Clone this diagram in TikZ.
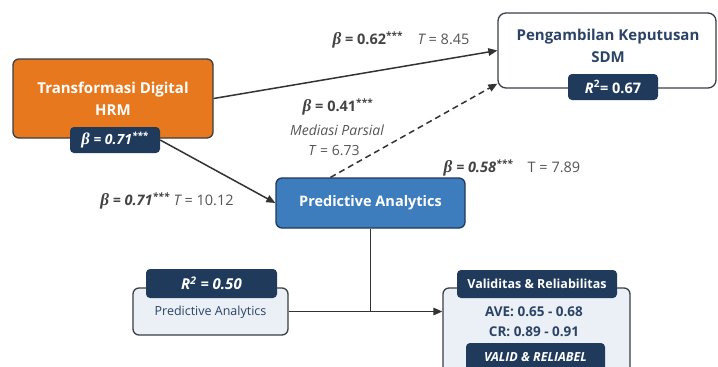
\documentclass[tikz,border=0pt]{standalone}
\usepackage{fontspec}
\setmainfont{Open Sans}
\newfontfamily\bfam{Liberation Serif}
\usetikzlibrary{arrows.meta,calc}
\definecolor{orangeM}{HTML}{E8781E}
\definecolor{navy}{HTML}{1F3A5A}
\definecolor{blueM}{HTML}{3D7DBE}
\definecolor{lightF}{HTML}{EAF0F6}
\definecolor{edgeC}{HTML}{3A3F46}
\definecolor{txtG}{HTML}{555555}
\definecolor{lineC}{HTML}{333333}
\definecolor{navyT}{HTML}{2B4466}
\newcommand\mybeta{\scalebox{1.18}{\bfam\itshape β}}
\newcommand\stars{\textsuperscript{***}}
\begin{document}
\begin{tikzpicture}[x=1pt,y=-1pt,
  box/.style={rounded corners=6pt, draw=edgeC, line width=1.3pt, inner sep=0pt},
  badge/.style={rounded corners=4pt, fill=navy, draw=none, text=white, inner sep=0pt},
  conn/.style={draw=lineC, line width=1.5pt},
  arr/.style={-{Triangle[length=9pt,width=7.5pt]}},
  lab/.style={text=txtG, font=\fontsize{14}{16}\selectfont, inner sep=0pt},
  blab/.style={text=txtG!80!black, font=\fontsize{14.5}{16}\selectfont\bfseries, inner sep=0pt}
]
\useasboundingbox (0,0) rectangle (718,367);
\clip (0,0) rectangle (718,367);
\fill[white] (0,0) rectangle (718,367);

% boxes
\node[box, fill=orangeM, minimum width=200pt, minimum height=79pt] (trans) at (113,98.5) {};
\node[text=white, align=center, font=\fontsize{15}{22}\selectfont\bfseries] (transT) at (113,99) {Transformasi Digital\\HRM};
\node[badge, minimum width=90pt, minimum height=26pt, font=\fontsize{14}{16}\selectfont\bfseries\itshape] (b1) at (115,140) {\mybeta{} = 0.71\stars};

\node[box, fill=white, rounded corners=8pt, minimum width=218pt, minimum height=75pt] (peng) at (607,50.5) {};
\node[text=navyT, align=center, font=\fontsize{15}{22}\selectfont\bfseries] (pengT) at (608,46) {Pengambilan Keputusan\\SDM};
\node[badge, minimum width=90pt, minimum height=26pt, font=\fontsize{14.5}{16}\selectfont\bfseries] (b2) at (613,87) {\textit{R}\textsuperscript{2}= 0.67};

\node[box, fill=blueM, draw=navy, minimum width=189pt, minimum height=50pt, text=white, font=\fontsize{14.5}{17}\selectfont\bfseries] (pa) at (370.5,203) {Predictive Analytics};

\node[box, fill=lightF, draw=edgeC, minimum width=155pt, minimum height=47pt] (lb) at (210.5,311.5) {};
\node[text=navyT, font=\fontsize{12.5}{14}\selectfont, inner sep=0pt] (lbT) at (210.5,312) {Predictive Analytics};
\node[badge, minimum width=131pt, minimum height=29pt, font=\fontsize{15}{17}\selectfont\bfseries\itshape] (b3) at (211.5,283.5) {R\textsuperscript{2} = 0.50};

\node[box, fill=lightF, draw=edgeC, minimum width=187pt, minimum height=92pt] (val) at (536.5,334) {};
\node[badge, minimum width=160pt, minimum height=28pt, font=\fontsize{12.5}{15}\selectfont\bfseries] (b4) at (537,284) {Validitas \& Reliabilitas};
\node[text=navyT, font=\fontsize{13.5}{15}\selectfont\bfseries, inner sep=0pt] (ave) at (534,312) {AVE: 0.65 - 0.68};
\node[text=navyT, font=\fontsize{13.5}{15}\selectfont\bfseries, inner sep=0pt] (cr) at (534,332) {CR: 0.89 - 0.91};
\node[badge, minimum width=139pt, minimum height=28pt, font=\fontsize{12.5}{14}\selectfont\bfseries\itshape] (b5) at (535.5,357) {VALID \& RELIABEL};

% connectors
\draw[conn, arr] (trans.east) -- (peng.west);
\draw[conn, arr, dashed, dash pattern=on 6pt off 4pt] ($(pa.north west)!0.29!(pa.north east)$) -- ($(peng.south west)+(0,-5)$);
\draw[conn, arr] (b1.east) -- (pa.west);
\draw[conn] (pa.south) -- (pa.south |- lb.east);
\draw[conn, arr] (lb.east) -- (lb.east -| val.west);

% labels
\node[inner sep=0pt] (l1) at (401,40) {\fontsize{14.5}{16}\selectfont\color{txtG!80!black}\bfseries\mybeta{} = 0.62\stars\quad\mdseries\color{txtG}\itshape T\upshape{} = 8.45};
\node[blab] (l2a) at (338,107) {\mybeta{} = 0.41\stars};
\node[lab, font=\fontsize{14}{16}\selectfont\itshape] (l2b) at (337,130) {Mediasi Parsial};
\node[lab] (l2c) at (334,151) {\textit{T} = 6.73};
\node[inner sep=0pt] (l3) at (512,168) {\fontsize{14.5}{16}\selectfont\color{txtG!80!black}\bfseries\itshape\mybeta{} = 0.58\stars\quad\mdseries\upshape\color{txtG}T = 7.89};
\node[inner sep=0pt] (l4) at (167,201) {\fontsize{14.5}{16}\selectfont\color{txtG!80!black}\bfseries\itshape\mybeta{} = 0.71\stars\ \mdseries\color{txtG}T\upshape{} = 10.12};
\end{tikzpicture}
\end{document}
